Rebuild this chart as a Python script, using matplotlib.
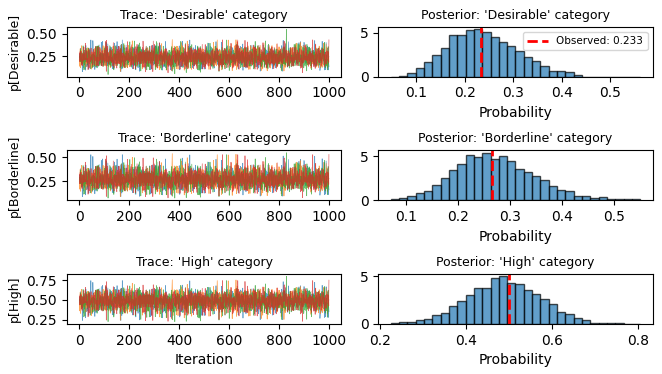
import numpy as np
import matplotlib.pyplot as plt

categories = ['Desirable', 'Borderline', 'High']
observed = [0.233, 0.265, 0.500]

# posterior sample range and histogram densities (30 bins)
sample_min = [0.047, 0.071, 0.224]
sample_max = [0.562, 0.550, 0.805]
dens_desirable = [0.02, 0.1, 0.4, 1.0, 1.7, 2.5, 3.3, 4.7, 4.7, 5.3,
                  5.4, 5.1, 4.5, 4.0, 3.5, 2.9, 2.3, 1.8, 1.2, 0.7,
                  0.6, 0.55, 0.2, 0.0, 0.0, 0.0, 0.0, 0.0, 0.0, 0.02]
dens_borderline = [0.1, 0.3, 0.45, 0.8, 1.1, 1.8, 2.5, 3.4, 4.1, 5.2,
                   4.9, 5.4, 4.7, 5.1, 4.5, 3.6, 3.2, 2.8, 2.3, 1.6,
                   1.2, 1.1, 0.5, 0.5, 0.3, 0.35, 0.2, 0.1, 0.1, 0.1]
dens_high = [0.1, 0.2, 0.2, 0.4, 0.55, 0.95, 1.15, 1.85, 2.4, 3.0,
             3.75, 3.75, 4.8, 5.0, 4.35, 4.25, 3.55, 3.2, 2.6, 2.05,
             1.3, 1.05, 0.6, 0.4, 0.08, 0.08, 0.08, 0.08, 0.0, 0.02]
densities = [dens_desirable, dens_borderline, dens_high]

n_chains = 4
n_iter = 1000


def trace_from_hist(dens, lo, hi):
    # rebuild the chain samples from the histogram, fixed (quadratic Weyl) order
    edges = np.linspace(lo, hi, len(dens) + 1)
    w = edges[1] - edges[0]
    counts = np.round(np.array(dens) * w * n_chains * n_iter).astype(int)
    vals = np.hstack([np.linspace(edges[k], edges[k + 1], c + 2)[1:-1]
                      for k, c in enumerate(counts)])
    vals = np.sort(np.hstack([vals, [lo, hi]]))
    i = np.arange(n_chains * n_iter, dtype=float) + 1
    u = (i * i * np.sqrt(2)) % 1.0
    return vals[(u * (len(vals) - 1)).round().astype(int)].reshape(n_chains, n_iter)


fig, axes = plt.subplots(3, 2, figsize=(6.62, 3.74), dpi=100)
iters = np.arange(n_iter)

for r, cat in enumerate(categories):
    ax = axes[r, 0]
    chains = trace_from_hist(densities[r], sample_min[r], sample_max[r])
    for c in range(n_chains):
        ax.plot(iters, chains[c], alpha=0.7, linewidth=0.5)
    ax.set_title(f"Trace: '{cat}' category", fontsize=9)
    ax.set_ylabel(f'p[{cat}]', fontsize=9)
    if r == len(categories) - 1:
        ax.set_xlabel('Iteration')

    ax = axes[r, 1]
    edges = np.linspace(sample_min[r], sample_max[r], len(densities[r]) + 1)
    centers = (edges[:-1] + edges[1:]) / 2
    ax.hist(centers, bins=edges, weights=densities[r], color='C0', alpha=0.7, edgecolor='black')
    ax.axvline(observed[r], color='red', linestyle='--', linewidth=2,
               label=f'Observed: {observed[r]:.3f}')
    ax.set_title(f"Posterior: '{cat}' category", fontsize=9)
    ax.set_xlabel('Probability')
    if r == 0:
        ax.legend(fontsize=7.5)

plt.subplots_adjust(left=0.101, right=0.986, top=0.928, bottom=0.134, wspace=0.134, hspace=1.48)
plt.savefig('out.png')
